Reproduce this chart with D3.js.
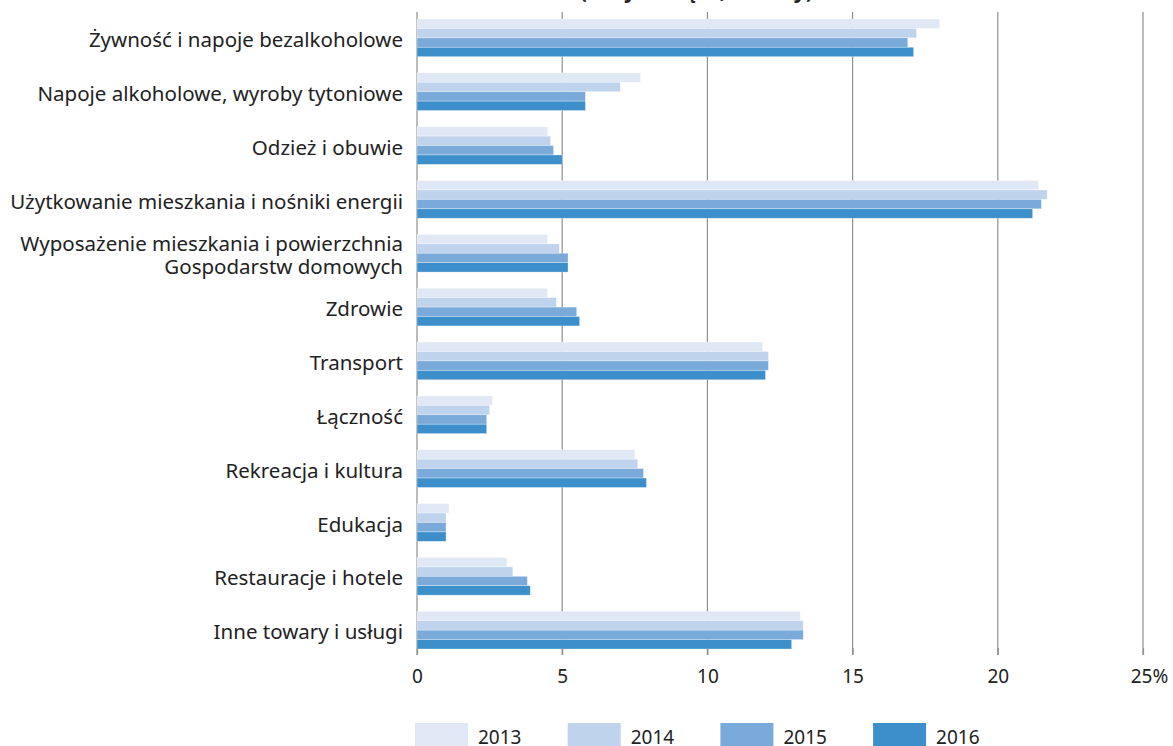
<!DOCTYPE html>
<html>
<head>
<meta charset="utf-8">
<script src="https://cdn.jsdelivr.net/npm/d3@7"></script>
<style>
  body { margin: 0; background: #fff; }
  svg text { font-family: "Noto Sans", "Open Sans", sans-serif; fill: #222; }
  .title { font-weight: bold; font-size: 21px; }
  .catLabel { font-size: 20.5px; }
  .axis text { font-size: 19px; }
  .legend text { font-size: 19px; }
</style>
</head>
<body>
<svg id="chart"></svg>
<script>
var categories = [
  ["Żywność i napoje bezalkoholowe"],
  ["Napoje alkoholowe, wyroby tytoniowe"],
  ["Odzież i obuwie"],
  ["Użytkowanie mieszkania i nośniki energii"],
  ["Wyposażenie mieszkania i powierzchnia", "Gospodarstw domowych"],
  ["Zdrowie"],
  ["Transport"],
  ["Łączność"],
  ["Rekreacja i kultura"],
  ["Edukacja"],
  ["Restauracje i hotele"],
  ["Inne towary i usługi"]
]
var years = ["2013", "2014", "2015", "2016"]
var values2013 = [18.0, 7.7, 4.5, 21.4, 4.5, 4.5, 11.9, 2.6, 7.5, 1.1, 3.1, 13.2]
var values2014 = [17.2, 7.0, 4.6, 21.7, 4.9, 4.8, 12.1, 2.5, 7.6, 1.0, 3.3, 13.3]
var values2015 = [16.9, 5.8, 4.7, 21.5, 5.2, 5.5, 12.1, 2.4, 7.8, 1.0, 3.8, 13.3]
var values2016 = [17.1, 5.8, 5.0, 21.2, 5.2, 5.6, 12.0, 2.4, 7.9, 1.0, 3.9, 12.9]
var xTicks = [0, 5, 10, 15, 20, 25]
var colors = ["#e0e8f5", "#bfd4ec", "#7aaad9", "#3d8fcb"]
var titleText = "Struktura kosztów (ceny bieżące, udziały)"

var width = 1173
var height = 746
var seriesValues = [values2013, values2014, values2015, values2016]

var svg = d3.select("#chart").attr("width", width).attr("height", height)

var x = d3.scaleLinear().domain([0, 25]).range([417, 1143])
var y = d3.scaleBand()
  .domain(categories.map(function (d, i) { return i }))
  .range([19, 649])
  .paddingInner(0.3)
  .paddingOuter(0)
var ySub = d3.scaleBand().domain(years).range([0, y.bandwidth()])
var color = d3.scaleOrdinal().domain(years).range(colors)

// title (cut at the top edge as in the original)
svg.append("text").attr("class", "title")
  .attr("x", 597).attr("y", -2)
  .attr("text-anchor", "middle")
  .text(titleText)

// vertical grid
svg.append("g").selectAll("line").data(xTicks).enter().append("line")
  .attr("x1", function (d) { return x(d) }).attr("x2", function (d) { return x(d) })
  .attr("y1", 12).attr("y2", 655)
  .attr("stroke", "#8e8e8e").attr("stroke-width", 1.2)

// bars
var groups = svg.append("g").selectAll("g").data(categories).enter().append("g")
  .attr("transform", function (d, i) { return "translate(0," + y(i) + ")" })

groups.selectAll("rect")
  .data(function (d, i) { return years.map(function (yr, k) { return { year: yr, value: seriesValues[k][i] } }) })
  .enter().append("rect")
  .attr("x", x(0))
  .attr("y", function (d) { return ySub(d.year) })
  .attr("width", function (d) { return x(d.value) - x(0) })
  .attr("height", ySub.bandwidth())
  .attr("fill", function (d) { return color(d.year) })
  .attr("stroke", "#fff").attr("stroke-opacity", 0.5).attr("stroke-width", 0.6)

// category labels
groups.each(function (lines) {
  var t = d3.select(this).append("text").attr("class", "catLabel")
    .attr("text-anchor", "end")
    .attr("x", 403)
  var lh = 23
  var y0 = y.bandwidth() / 2 + 2 - (lines.length - 1) * lh / 2
  lines.forEach(function (line, k) {
    t.append("tspan").attr("x", 403).attr("y", y0 + k * lh).attr("dy", "0.35em").text(line)
  })
})

// x axis
var axis = svg.append("g").attr("class", "axis")
  .attr("transform", "translate(0,648)")
  .call(d3.axisBottom(x).tickValues(xTicks).tickSize(7).tickPadding(15)
    .tickFormat(function (d) { return d === 25 ? d + "%" : d }))
axis.select(".domain").remove()
axis.selectAll(".tick line").attr("stroke", "#8e8e8e").attr("stroke-width", 1.2)
axis.selectAll(".tick text").attr("fill", "#222")
  .attr("dx", function (d) { return d === 25 ? 6 : 0 })

// legend
var legend = svg.append("g").attr("class", "legend")
  .selectAll("g").data(years).enter().append("g")
  .attr("transform", function (d, i) { return "translate(" + (415 + i * 152.7) + ",723)" })
legend.append("rect").attr("width", 53).attr("height", 30)
  .attr("fill", function (d) { return color(d) })
legend.append("text").attr("x", 63).attr("y", 21).text(function (d) { return d })
</script>
</body>
</html>
